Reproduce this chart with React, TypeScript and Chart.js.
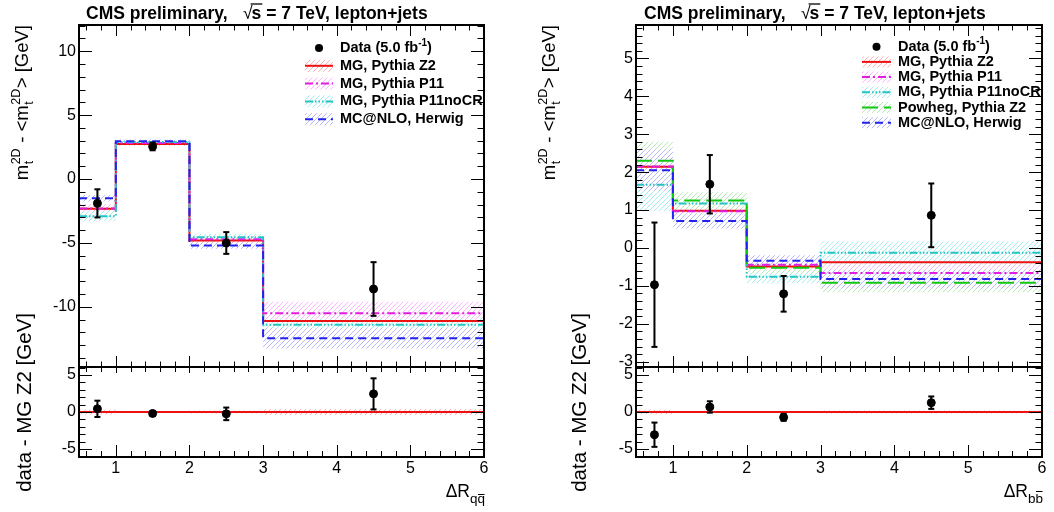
import React, { useEffect, useRef } from 'react';
import { Chart, registerables } from 'chart.js';

Chart.register(...registerables);

// ---------------- data ----------------
const BIN_EDGES = [0.5, 1, 2, 3, 6];
const BIN_CENTERS = [0.75, 1.5, 2.5, 4.5];
const X_TICKS = [1, 2, 3, 4, 5, 6];
const QQ_Y_TICKS = [-10, -5, 0, 5, 10];
const BB_Y_TICKS = [-3, -2, -1, 0, 1, 2, 3, 4, 5];
const RATIO_Y_TICKS = [-5, 0, 5];
const REFERENCE_LINE = [0, 0, 0, 0];

// Left panel: Delta R (q qbar)
const QQ_DATA = [-1.9, 2.55, -5.0, -8.6];
const QQ_DATA_ERR = [1.1, 0.3, 0.85, 2.1];
const QQ_MG_Z2 = [-2.33, 2.75, -4.8, -11.1];
const QQ_MG_Z2_ERR = [0.35, 0.15, 0.2, 0.4];
const QQ_MG_P11 = [-2.3, 2.82, -4.7, -10.5];
const QQ_MG_P11_ERR = [0.35, 0.15, 0.2, 0.9];
const QQ_MG_P11NOCR = [-2.9, 2.9, -4.55, -11.4];
const QQ_MG_P11NOCR_ERR = [0.4, 0.15, 0.25, 0.45];
const QQ_MCNLO = [-1.5, 2.95, -5.2, -12.45];
const QQ_MCNLO_ERR = [0.25, 0.15, 0.25, 0.8];
const QQ_DIFF = [0.43, -0.2, -0.25, 2.45];
const QQ_DIFF_ERR = [1.1, 0.3, 0.85, 2.1];

// Right panel: Delta R (b bbar)
const BB_DATA = [-0.97, 1.68, -1.21, 0.86];
const BB_DATA_ERR = [1.64, 0.77, 0.47, 0.84];
const BB_MG_Z2 = [2.14, 0.98, -0.49, -0.38];
const BB_MG_Z2_ERR = [0.3, 0.15, 0.1, 0.2];
const BB_MG_P11 = [2.15, 0.97, -0.44, -0.66];
const BB_MG_P11_ERR = [0.3, 0.15, 0.1, 0.25];
const BB_MG_P11NOCR = [1.67, 1.17, -0.76, -0.13];
const BB_MG_P11NOCR_ERR = [0.7, 0.2, 0.17, 0.3];
const BB_POWHEG = [2.3, 1.25, -0.52, -0.92];
const BB_POWHEG_ERR = [0.5, 0.22, 0.15, 0.25];
const BB_MCNLO = [2.05, 0.71, -0.34, -0.82];
const BB_MCNLO_ERR = [0.55, 0.2, 0.15, 0.25];
const BB_DIFF = [-3.07, 0.68, -0.72, 1.26];
const BB_DIFF_ERR = [1.64, 0.77, 0.47, 0.84];

// labels
const LABEL_Z2 = 'MG, Pythia Z2';
const LABEL_P11 = 'MG, Pythia P11';
const LABEL_P11NOCR = 'MG, Pythia P11noCR';
const LABEL_POWHEG = 'Powheg, Pythia Z2';
const LABEL_MCNLO = 'MC@NLO, Herwig';
const LEGEND_DATA_TEXT = 'Data (5.0 fb';
const LEGEND_DATA_SUP = '-1';
const TITLE_MAIN = 'CMS preliminary,';
const TITLE_REST = ' = 7 TeV, lepton+jets';
const RATIO_Y_TITLE = 'data - MG Z2 [GeV]';

// ---------------- styles ----------------
const FONT_FAMILY = '"Liberation Sans", Arial, Helvetica, sans-serif';
const font = (size: number, bold = false) => `${bold ? 'bold ' : ''}${size}px ${FONT_FAMILY}`;

const STYLE: Record<string, { color: string; hatch: string; dash: number[] }> = {
  z2: { color: '#ee1111', hatch: '#ffb4b4', dash: [] },
  p11: { color: '#e01ee0', hatch: '#ffb4ff', dash: [8, 3, 2, 3] },
  p11nocr: { color: '#22c4c4', hatch: '#a4eeee', dash: [8, 2, 1.5, 2, 1.5, 2, 1.5, 2] },
  powheg: { color: '#11c811', hatch: '#b4ecb4', dash: [16, 6] },
  mcnlo: { color: '#2222ee', hatch: '#b8b8ff', dash: [8, 5] },
};

type SeriesDef = { key: string; label: string; vals: number[]; errs: number[] };

const QQ_SERIES: SeriesDef[] = [
  { key: 'z2', label: LABEL_Z2, vals: QQ_MG_Z2, errs: QQ_MG_Z2_ERR },
  { key: 'p11', label: LABEL_P11, vals: QQ_MG_P11, errs: QQ_MG_P11_ERR },
  { key: 'p11nocr', label: LABEL_P11NOCR, vals: QQ_MG_P11NOCR, errs: QQ_MG_P11NOCR_ERR },
  { key: 'mcnlo', label: LABEL_MCNLO, vals: QQ_MCNLO, errs: QQ_MCNLO_ERR },
];
const BB_SERIES: SeriesDef[] = [
  { key: 'z2', label: LABEL_Z2, vals: BB_MG_Z2, errs: BB_MG_Z2_ERR },
  { key: 'p11', label: LABEL_P11, vals: BB_MG_P11, errs: BB_MG_P11_ERR },
  { key: 'p11nocr', label: LABEL_P11NOCR, vals: BB_MG_P11NOCR, errs: BB_MG_P11NOCR_ERR },
  { key: 'powheg', label: LABEL_POWHEG, vals: BB_POWHEG, errs: BB_POWHEG_ERR },
  { key: 'mcnlo', label: LABEL_MCNLO, vals: BB_MCNLO, errs: BB_MCNLO_ERR },
];

const TOP_Y = 25;
const SPLIT_Y = 367;
const BOTTOM_Y = 457;
const W = 1054;
const H = 512;
const Y_AXIS_W = 60;
const X_AXIS_H = 30;

const PANELS = [
  {
    left: 79, right: 484, yMin: -14.7, yMax: 12.05, yTicks: QQ_Y_TICKS, yMinorStep: 1,
    data: QQ_DATA, dataErr: QQ_DATA_ERR, series: QQ_SERIES, diff: QQ_DIFF, diffErr: QQ_DIFF_ERR,
    refErr: QQ_MG_Z2_ERR, titleX: 86, yTitleX: 28, ratioTitleX: 31, sub: 'qq', subHigh: false,
    legend: { symL: 305, symR: 333, textX: 340, y0: 48, dy: 17.8, box: 12 },
  },
  {
    left: 636, right: 1042, yMin: -3.14, yMax: 5.88, yTicks: BB_Y_TICKS, yMinorStep: 0.2,
    data: BB_DATA, dataErr: BB_DATA_ERR, series: BB_SERIES, diff: BB_DIFF, diffErr: BB_DIFF_ERR,
    refErr: BB_MG_Z2_ERR, titleX: 644, yTitleX: 555, ratioTitleX: 586, sub: 'bb', subHigh: true,
    legend: { symL: 862, symR: 891, textX: 898, y0: 46.7, dy: 15.2, box: 11 },
  },
];

// ---------------- helpers ----------------
const patternCache: Record<string, CanvasPattern> = {};
function hatch(color: string): CanvasPattern {
  if (patternCache[color]) return patternCache[color];
  const n = 5;
  const c = document.createElement('canvas');
  c.width = n;
  c.height = n;
  const g = c.getContext('2d')!;
  g.strokeStyle = color;
  g.lineWidth = 1;
  g.beginPath();
  g.moveTo(-1, n + 1); g.lineTo(n + 1, -1);
  g.moveTo(-1, 1); g.lineTo(1, -1);
  g.moveTo(n - 1, n + 1); g.lineTo(n + 1, n - 1);
  g.stroke();
  const p = g.createPattern(c, 'repeat')!;
  patternCache[color] = p;
  return p;
}

function stepPts(vals: number[]) {
  const pts: { x: number; y: number }[] = [];
  vals.forEach((v, i) => {
    pts.push({ x: BIN_EDGES[i], y: v }, { x: BIN_EDGES[i + 1], y: v });
  });
  return pts;
}
const shift = (v: number[], e: number[], s: number) => v.map((x, i) => x + s * e[i]);

function minorTicks(min: number, max: number, step: number, majors: number[]) {
  const out: number[] = [];
  for (let k = Math.ceil(min / step - 1e-6); k * step <= max + 1e-6; k++) {
    const v = +(k * step).toFixed(6);
    if (!majors.some((m) => Math.abs(m - v) < 1e-6)) out.push(v);
  }
  return out;
}

function pointsDs(vals: number[]) {
  return {
    data: BIN_CENTERS.map((x, i) => ({ x, y: vals[i] })),
    showLine: false, pointRadius: 4, pointStyle: 'circle',
    pointBackgroundColor: '#000', pointBorderColor: '#000', pointBorderWidth: 1,
  };
}
function errDs(vals: number[], errs: number[]) {
  const pts: { x: number; y: number | null }[] = [];
  BIN_CENTERS.forEach((x, i) => {
    pts.push({ x, y: vals[i] - errs[i] }, { x, y: vals[i] + errs[i] }, { x, y: null });
  });
  return {
    data: pts, showLine: true, spanGaps: false, fill: false,
    borderColor: '#000', borderWidth: 2,
    pointStyle: 'line', pointRadius: 3, pointBorderWidth: 2, pointBorderColor: '#000', pointBackgroundColor: '#000',
  };
}
function lineDs(vals: number[], key: string) {
  const st = STYLE[key];
  return {
    data: stepPts(vals), showLine: true, fill: false, borderColor: st.color, borderWidth: 2,
    borderDash: st.dash, pointRadius: 0, borderCapStyle: 'butt',
  };
}
function bandDs(vals: number[], errs: number[], key: string) {
  return [
    {
      data: stepPts(shift(vals, errs, 1)), showLine: true, fill: '+1', backgroundColor: hatch(STYLE[key].hatch),
      borderColor: 'rgba(0,0,0,0)', borderWidth: 0, pointRadius: 0,
    },
    {
      data: stepPts(shift(vals, errs, -1)), showLine: true, fill: false,
      borderColor: 'rgba(0,0,0,0)', borderWidth: 0, pointRadius: 0,
    },
  ];
}

type TickCfg = {
  yMajor: number[]; yMinor: number[]; yMaj: number; yMin: number;
  xBotMaj: number; xBotMin: number; xTopMaj: number; xTopMin: number;
};
function frameTicks(o: TickCfg, extraDraw: (ctx: CanvasRenderingContext2D) => void) {
  return {
    id: 'frameTicks',
    afterDatasetsDraw(chart: any) {
      const { ctx, chartArea: a } = chart;
      const xs = chart.scales.x;
      const ys = chart.scales.y;
      const xMinor = minorTicks(xs.min, xs.max, 0.2, X_TICKS);
      ctx.save();
      ctx.setLineDash([]);
      ctx.strokeStyle = '#000';
      ctx.lineWidth = 1;
      ctx.beginPath();
      const xt = (vals: number[], lb: number, lt: number) => vals.forEach((v) => {
        const px = Math.round(xs.getPixelForValue(v)) + 0.5;
        ctx.moveTo(px, a.bottom); ctx.lineTo(px, a.bottom - lb);
        ctx.moveTo(px, a.top); ctx.lineTo(px, a.top + lt);
      });
      xt(X_TICKS, o.xBotMaj, o.xTopMaj);
      xt(xMinor, o.xBotMin, o.xTopMin);
      const yt = (vals: number[], len: number) => vals.forEach((v) => {
        const py = Math.round(ys.getPixelForValue(v)) + 0.5;
        ctx.moveTo(a.left, py); ctx.lineTo(a.left + len, py);
        ctx.moveTo(a.right, py); ctx.lineTo(a.right - len, py);
      });
      yt(o.yMajor, o.yMaj);
      yt(o.yMinor, o.yMin);
      ctx.stroke();
      ctx.lineWidth = 2;
      ctx.strokeRect(a.left, a.top, a.right - a.left, a.bottom - a.top);
      ctx.restore();
    },
    afterDraw(chart: any) {
      const ctx = chart.ctx as CanvasRenderingContext2D;
      ctx.save();
      extraDraw(ctx);
      ctx.restore();
    },
  };
}

function drawTitle(ctx: CanvasRenderingContext2D, x: number) {
  const base = 18.5;
  ctx.fillStyle = '#000';
  ctx.strokeStyle = '#000';
  ctx.textAlign = 'left';
  ctx.textBaseline = 'alphabetic';
  ctx.font = font(17.5, true);
  ctx.fillText(TITLE_MAIN, x, base);
  const rx = x + 157;
  ctx.font = font(17.5, false);
  ctx.fillText('√', rx, base);
  const wr = ctx.measureText('√').width;
  ctx.font = font(17.5, true);
  ctx.fillText('s', rx + wr - 1, base);
  const ws = ctx.measureText('s').width;
  ctx.lineWidth = 1.3;
  ctx.beginPath();
  ctx.moveTo(rx + wr - 2, base - 14.5);
  ctx.lineTo(rx + wr + ws, base - 14.5);
  ctx.stroke();
  ctx.fillText(TITLE_REST, rx + wr + ws - 1, base);
}

function drawYTitleTop(ctx: CanvasRenderingContext2D, xBase: number, yEnd: number) {
  const big = 18.5;
  const small = 12.5;
  const parts: { t?: string; sup?: string; sub?: string }[] = [
    { t: 'm' }, { sup: '2D', sub: 't' }, { t: ' - <m' }, { sup: '2D', sub: 't' }, { t: '> [GeV]' },
  ];
  const width = (p: { t?: string; sup?: string; sub?: string }) => {
    if (p.t) { ctx.font = font(big); return ctx.measureText(p.t).width; }
    ctx.font = font(small);
    return Math.max(ctx.measureText(p.sup!).width, ctx.measureText(p.sub!).width) + 1;
  };
  const total = parts.reduce((s, p) => s + width(p), 0);
  ctx.translate(xBase, yEnd);
  ctx.rotate(-Math.PI / 2);
  ctx.fillStyle = '#000';
  ctx.textAlign = 'left';
  ctx.textBaseline = 'alphabetic';
  let x = -total;
  parts.forEach((p) => {
    const w = width(p);
    if (p.t) {
      ctx.font = font(big);
      ctx.fillText(p.t, x, 0);
    } else {
      ctx.font = font(small);
      ctx.fillText(p.sup!, x + 0.5, -big * 0.42);
      ctx.fillText(p.sub!, x + 0.5, big * 0.25);
    }
    x += w;
  });
}

function drawRatioTitle(ctx: CanvasRenderingContext2D, xBase: number, yEnd: number) {
  ctx.translate(xBase, yEnd);
  ctx.rotate(-Math.PI / 2);
  ctx.fillStyle = '#000';
  ctx.font = font(20.5);
  ctx.textAlign = 'right';
  ctx.textBaseline = 'alphabetic';
  ctx.fillText(RATIO_Y_TITLE, 0, 0);
}

function drawXTitle(ctx: CanvasRenderingContext2D, xRight: number, yBase: number, sub: string, high: boolean) {
  ctx.fillStyle = '#000';
  ctx.strokeStyle = '#000';
  ctx.textAlign = 'left';
  ctx.textBaseline = 'alphabetic';
  ctx.font = font(17.5);
  const wMain = ctx.measureText('ΔR').width;
  ctx.font = font(13.5);
  const wSub = ctx.measureText(sub).width;
  const w1 = ctx.measureText(sub[0]).width;
  const x0 = xRight - wMain - wSub;
  ctx.font = font(17.5);
  ctx.fillText('ΔR', x0, yBase);
  ctx.font = font(13.5);
  const sy = yBase + 6;
  ctx.fillText(sub, x0 + wMain, sy);
  const oy = sy - (high ? 11.5 : 8.5);
  ctx.lineWidth = 1;
  ctx.beginPath();
  ctx.moveTo(x0 + wMain + w1 + 0.5, oy);
  ctx.lineTo(x0 + wMain + wSub - 0.5, oy);
  ctx.stroke();
}

function drawLegend(ctx: CanvasRenderingContext2D, L: any, series: SeriesDef[]) {
  const cx = (L.symL + L.symR) / 2;
  ctx.textAlign = 'left';
  ctx.textBaseline = 'middle';
  // data entry
  let y = L.y0;
  ctx.fillStyle = '#000';
  ctx.beginPath();
  ctx.arc(cx, y, 4, 0, Math.PI * 2);
  ctx.fill();
  ctx.font = font(14.5, true);
  ctx.fillText(LEGEND_DATA_TEXT, L.textX, y);
  const w = ctx.measureText(LEGEND_DATA_TEXT).width;
  ctx.font = font(10, true);
  ctx.fillText(LEGEND_DATA_SUP, L.textX + w, y - 5);
  const w2 = ctx.measureText(LEGEND_DATA_SUP).width;
  ctx.font = font(14.5, true);
  ctx.fillText(')', L.textX + w + w2, y);
  series.forEach((s, i) => {
    y = L.y0 + (i + 1) * L.dy;
    const st = STYLE[s.key];
    ctx.fillStyle = hatch(st.hatch);
    ctx.fillRect(L.symL, y - L.box / 2, L.symR - L.symL, L.box);
    ctx.strokeStyle = st.color;
    ctx.lineWidth = 2;
    ctx.setLineDash(st.dash);
    ctx.beginPath();
    ctx.moveTo(L.symL, y);
    ctx.lineTo(L.symR, y);
    ctx.stroke();
    ctx.setLineDash([]);
    ctx.fillStyle = '#000';
    ctx.font = font(14.5, true);
    ctx.fillText(s.label, L.textX, y);
  });
}

function scaleOpts(min: number, max: number, ticks: number[], showX: boolean) {
  const tickFont = { family: FONT_FAMILY, size: 16 };
  return {
    x: {
      type: 'linear', min: BIN_EDGES[0], max: BIN_EDGES[BIN_EDGES.length - 1], display: showX,
      grid: { display: false, drawTicks: false, tickLength: 0 }, border: { display: false },
      ticks: { autoSkip: false, maxRotation: 0, color: '#000', font: tickFont, padding: 2 },
      afterBuildTicks: (s: any) => { s.ticks = X_TICKS.map((v) => ({ value: v })); },
      afterFit: (s: any) => { s.height = showX ? X_AXIS_H : 0; },
    },
    y: {
      type: 'linear', min, max,
      grid: { display: false, drawTicks: false, tickLength: 0 }, border: { display: false },
      ticks: { autoSkip: false, color: '#000', font: tickFont, padding: 3 },
      afterBuildTicks: (s: any) => { s.ticks = ticks.map((v) => ({ value: v })); },
      afterFit: (s: any) => { s.width = Y_AXIS_W; },
    },
  };
}

function buildTop(canvas: HTMLCanvasElement, p: any) {
  const ds: any[] = [];
  ds.push(pointsDs(p.data));
  ds.push(errDs(p.data, p.dataErr));
  const rev = [...p.series].reverse();
  rev.forEach((s: SeriesDef) => ds.push(lineDs(s.vals, s.key)));
  rev.forEach((s: SeriesDef) => ds.push(...bandDs(s.vals, s.errs, s.key)));
  const plugin = frameTicks(
    {
      yMajor: p.yTicks, yMinor: minorTicks(p.yMin, p.yMax, p.yMinorStep, p.yTicks), yMaj: 13, yMin: 6.5,
      xBotMaj: 11, xBotMin: 5.5, xTopMaj: 11, xTopMin: 5.5,
    },
    (ctx) => {
      drawTitle(ctx, p.titleX);
      ctx.save();
      drawYTitleTop(ctx, p.yTitleX, TOP_Y);
      ctx.restore();
      drawLegend(ctx, p.legend, p.series);
    },
  );
  return new Chart(canvas, {
    type: 'line',
    data: { datasets: ds },
    options: {
      responsive: false, animation: false, events: [],
      layout: { padding: { left: p.left - Y_AXIS_W, right: W - p.right, top: TOP_Y, bottom: H - SPLIT_Y } },
      plugins: { legend: { display: false }, tooltip: { enabled: false }, title: { display: false } },
      scales: scaleOpts(p.yMin, p.yMax, p.yTicks, false) as any,
    },
    plugins: [plugin as any],
  } as any);
}

function buildRatio(canvas: HTMLCanvasElement, p: any) {
  const ds: any[] = [];
  ds.push(pointsDs(p.diff));
  ds.push(errDs(p.diff, p.diffErr));
  ds.push(lineDs(REFERENCE_LINE, 'z2'));
  ds.push(...bandDs(REFERENCE_LINE, p.refErr, 'z2'));
  const rMin = -6.08;
  const rMax = 6.08;
  const plugin = frameTicks(
    {
      yMajor: RATIO_Y_TICKS, yMinor: minorTicks(rMin, rMax, 1, RATIO_Y_TICKS), yMaj: 13, yMin: 6.5,
      xBotMaj: 12, xBotMin: 6, xTopMaj: 6, xTopMin: 5,
    },
    (ctx) => {
      ctx.save();
      drawRatioTitle(ctx, p.ratioTitleX, 313);
      ctx.restore();
      drawXTitle(ctx, p.right + 1, 497, p.sub, p.subHigh);
    },
  );
  return new Chart(canvas, {
    type: 'line',
    data: { datasets: ds },
    options: {
      responsive: false, animation: false, events: [],
      layout: { padding: { left: p.left - Y_AXIS_W, right: W - p.right, top: SPLIT_Y, bottom: H - BOTTOM_Y - X_AXIS_H } },
      plugins: { legend: { display: false }, tooltip: { enabled: false }, title: { display: false } },
      scales: scaleOpts(rMin, rMax, RATIO_Y_TICKS, true) as any,
    },
    plugins: [plugin as any],
  } as any);
}

export default function App() {
  const r0 = useRef<HTMLCanvasElement>(null);
  const r1 = useRef<HTMLCanvasElement>(null);
  const r2 = useRef<HTMLCanvasElement>(null);
  const r3 = useRef<HTMLCanvasElement>(null);
  useEffect(() => {
    const charts: Chart[] = [];
    charts.push(buildTop(r0.current!, PANELS[0]));
    charts.push(buildRatio(r1.current!, PANELS[0]));
    charts.push(buildTop(r2.current!, PANELS[1]));
    charts.push(buildRatio(r3.current!, PANELS[1]));
    return () => charts.forEach((c) => c.destroy());
  }, []);
  const cs: React.CSSProperties = { position: 'absolute', left: 0, top: 0, width: W, height: H };
  return (
    <div style={{ position: 'fixed', left: 0, top: 0, width: W, height: H, background: '#fff' }}>
      <canvas ref={r0} width={W} height={H} style={cs} />
      <canvas ref={r1} width={W} height={H} style={cs} />
      <canvas ref={r2} width={W} height={H} style={cs} />
      <canvas ref={r3} width={W} height={H} style={cs} />
    </div>
  );
}
